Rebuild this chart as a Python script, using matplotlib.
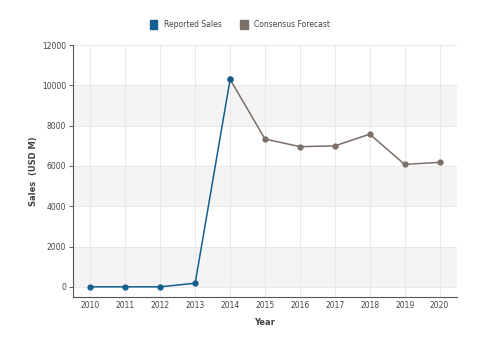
import matplotlib
matplotlib.use('Agg')
import matplotlib.pyplot as plt
from matplotlib.patches import Patch

years = [2010, 2011, 2012, 2013, 2014, 2015, 2016, 2017, 2018, 2019, 2020]
reported_years = [2010, 2011, 2012, 2013, 2014]
reported_sales = [0, 0, 0, 180, 10300]
forecast_years = [2014, 2015, 2016, 2017, 2018, 2019, 2020]
forecast_sales = [10300, 7340, 6960, 7000, 7580, 6080, 6180]
yticks = [0, 2000, 4000, 6000, 8000, 10000, 12000]

blue = '#135e8c'
grey = '#7b6f67'
txt = '#444444'

fig = plt.figure(figsize=(5, 3.37), dpi=100)
ax = fig.add_axes([0.146, 0.119, 0.768, 0.747])

# alternating shaded bands
for lo in [0, 4000, 8000]:
    ax.axhspan(lo, lo + 2000, color='#f4f4f4', zorder=0, lw=0)
for y in yticks:
    ax.axhline(y, color='#e6e6e6', lw=0.6, zorder=0.5)
for x in years:
    ax.axvline(x, color='#e6e6e6', lw=0.6, zorder=0.5)

ax.plot(forecast_years, forecast_sales, color=grey, lw=1.1, marker='o', ms=3.5, zorder=3)
ax.plot(reported_years, reported_sales, color=blue, lw=1.1, marker='o', ms=3.5, zorder=4)

ax.set_xlim(2009.5, 2020.5)
ax.set_ylim(-500, 12000)
ax.set_xticks(years)
ax.set_yticks(yticks)
ax.tick_params(axis='x', length=0, labelsize=5.5, colors=txt, pad=3)
ax.tick_params(axis='y', length=3, width=0.6, labelsize=5.5, colors=txt, pad=2)
for s in ['top', 'right']:
    ax.spines[s].set_visible(False)
for s in ['left', 'bottom']:
    ax.spines[s].set_color('#555555')
    ax.spines[s].set_linewidth(0.8)

ax.set_xlabel('Year', fontsize=6, fontweight='bold', color=txt, labelpad=6)
ax.set_ylabel('Sales  (USD M)', fontsize=6, fontweight='bold', color=txt, labelpad=3)

handles = [Patch(color=blue, label='Reported Sales'), Patch(color=grey, label='Consensus Forecast')]
fig.legend(handles=handles, loc='center', bbox_to_anchor=(0.48, 0.928), ncol=2, frameon=False,
           fontsize=5.5, handlelength=1.0, handleheight=1.5, columnspacing=2.5, handletextpad=0.8,
           labelcolor=txt)

fig.savefig('out.png', dpi=100)
